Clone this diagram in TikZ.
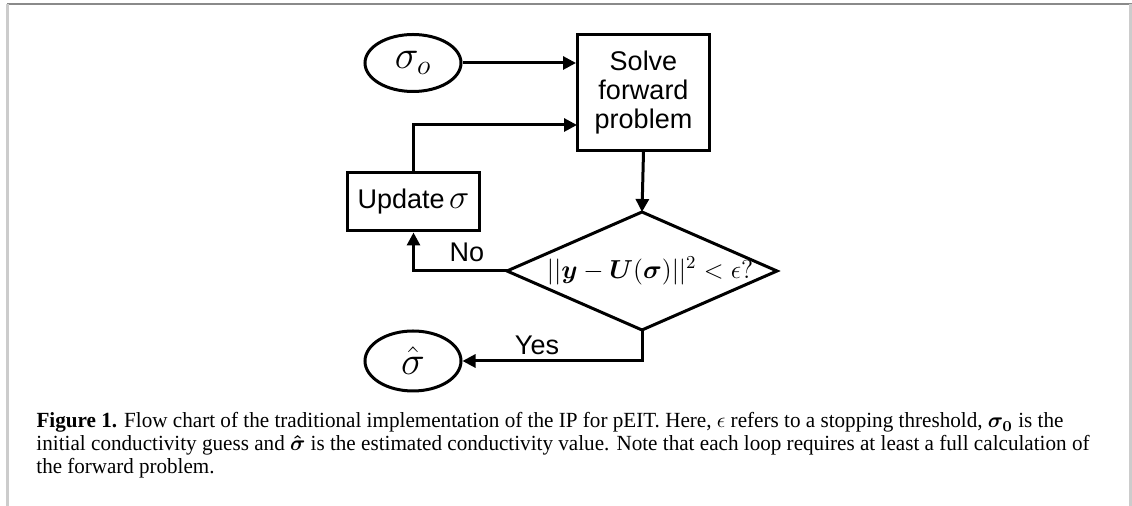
\documentclass[tikz,border=0pt]{standalone}
\usepackage{fix-cm}
\usepackage{amsmath}
\usepackage[no-math]{fontspec}
\setmainfont{Liberation Serif}
\newfontfamily\diasans{Liberation Sans}
\usetikzlibrary{arrows.meta,shapes.geometric}
\newsavebox\capbox
\newcommand\fitline[2]{\sbox\capbox{#2}\edef\capw{\the\wd\capbox}\pgfmathsetmacro\fitfac{#1/\capw}\scalebox{\fitfac}[1]{\usebox\capbox}}
\begin{document}
\begin{tikzpicture}[x=0.5pt,y=-0.5pt,
  line width=1.5pt,
  >={Triangle[length=6.5pt,width=6.5pt]},
  boxnode/.style={draw, line width=1.5pt, font=\diasans\fontsize{13.5}{14.5}\selectfont, align=center, inner sep=0pt},
  termnode/.style={draw, ellipse, line width=1.5pt, inner sep=0pt},
  flow/.style={draw, line width=1.5pt, ->},
  lbl/.style={font=\diasans\fontsize{13.5}{15}\selectfont, inner sep=0pt},
  capline/.style={anchor=base west, inner sep=0pt},
  capfont/.style={font=\fontsize{10.8}{12}\selectfont}]
\useasboundingbox (0,0) rectangle (1132,506);
% frame
\draw[color={rgb,255:red,138;green,138;blue,138}, line width=1pt] (7,4) -- (1132,4);
\draw[color={rgb,255:red,204;green,204;blue,204}, line width=1.5pt] (7.5,4) -- (7.5,506);
\draw[color={rgb,255:red,204;green,204;blue,204}, line width=1.5pt] (1130.5,4) -- (1130.5,506);
% nodes
\node[termnode, minimum width=48pt, minimum height=28.5pt] (s0) at (413,63) {\fontsize{20}{24}\selectfont$\sigma_o$};
\node[boxnode, minimum width=66pt, minimum height=58pt] (solve) at (643.5,92.5) {Solve\\forward\\problem};
\node[boxnode, minimum width=66pt, minimum height=29pt] (update) at (413.5,202) {Update\,{\fontsize{17}{20}\selectfont$\sigma$}};
\coordinate (dT) at (642,212);
\coordinate (dL) at (507,271);
\coordinate (dR) at (777,271);
\coordinate (dB) at (642,330);
\draw[line width=1.5pt, line join=miter] (dT) -- (dR) -- (dB) -- (dL) -- cycle;
\node[inner sep=0pt] (cond) at (650,271) {\fontsize{13}{16}\selectfont$||\boldsymbol{y}-\boldsymbol{U}(\boldsymbol{\sigma})||^2<\epsilon?$};
\node[termnode, minimum width=48pt, minimum height=30pt] (shat) at (413,361) {\fontsize{20}{24}\selectfont$\hat{\sigma}$};
\coordinate (in2) at (577,125);
% connectors
\draw[flow] (s0.east) -- (s0.east -| solve.west);
\draw[flow] (update.north) |- (in2);
\draw[flow] (solve.south) -- (dT);
\draw[flow] (dL) -| (update.south);
\draw[flow] (dB) |- (shat.east);
\node[lbl] (no) at (467,252) {No};
\node[lbl] (yes) at (537,345) {Yes};
% caption
\node[capline, capfont] (cap1) at (35,428) {\fitline{513.5pt}{\textbf{Figure 1.} Flow chart of the traditional implementation of the IP for pEIT. Here, $\epsilon$ refers to a stopping threshold, $\boldsymbol{\sigma_0}$ is the}};
\node[capline, capfont] (cap2) at (35,451) {\fitline{526.5pt}{initial conductivity guess and $\boldsymbol{\hat{\sigma}}$ is the estimated conductivity value. Note that each loop requires at least a full calculation of}};
\node[capline, capfont] (cap3) at (35,474) {\fitline{89pt}{the forward problem.}};
\end{tikzpicture}
\end{document}
